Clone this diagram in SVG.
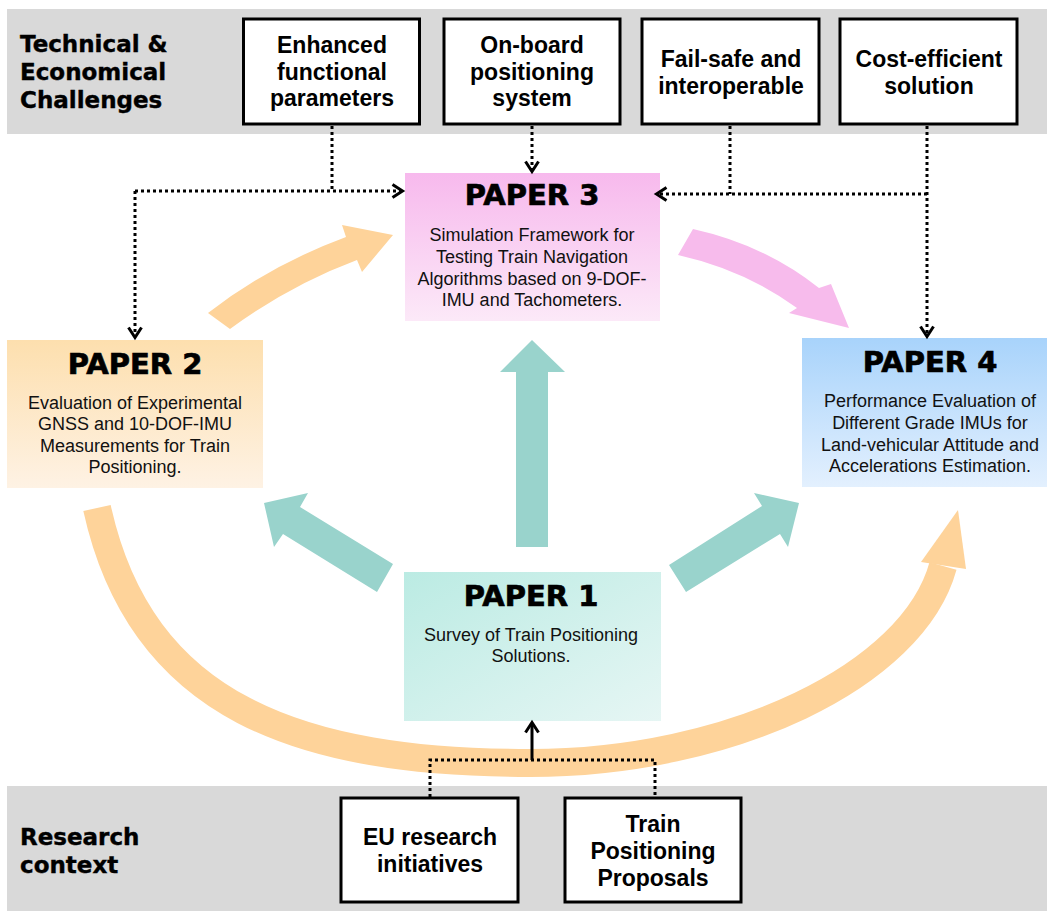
<svg xmlns="http://www.w3.org/2000/svg" width="1047" height="911" viewBox="0 0 1047 911">
<style>
.band{fill:#d9d9d9}
.box{fill:#fff;stroke:#000;stroke-width:3}
.lbl{font-family:"Liberation Sans",Arial,sans-serif;font-weight:bold;font-size:23px;text-anchor:middle;fill:#000}
.hd{font-family:"DejaVu Sans",sans-serif;font-weight:bold;font-size:23px;fill:#000;stroke:#000;stroke-width:0.4}
.ttl{font-family:"DejaVu Sans",sans-serif;font-weight:bold;font-size:29px;text-anchor:middle;fill:#000;stroke:#000;stroke-width:0.7}
.body{font-family:"Liberation Sans",Arial,sans-serif;font-size:18px;text-anchor:middle;fill:#111}
.dot{fill:none;stroke:#000;stroke-width:3;stroke-dasharray:3 3}
.solid{fill:none;stroke:#000;stroke-width:3}
.teal{fill:#99d3cc}
.orange{fill:#fed39a}
.pink{fill:#f7bbec}
</style>
<defs>
<linearGradient id="gP3" x1="0" y1="0" x2="0" y2="1"><stop offset="0" stop-color="#f7b9ed"/><stop offset="1" stop-color="#fce9f8"/></linearGradient>
<linearGradient id="gP2" x1="0" y1="0" x2="0" y2="1"><stop offset="0" stop-color="#fddfae"/><stop offset="1" stop-color="#fef2e4"/></linearGradient>
<linearGradient id="gP4" x1="0" y1="0" x2="0" y2="1"><stop offset="0" stop-color="#a8d3fb"/><stop offset="1" stop-color="#e3f0fe"/></linearGradient>
<linearGradient id="gP1" x1="0" y1="0" x2="1" y2="1"><stop offset="0" stop-color="#bbebe3"/><stop offset="1" stop-color="#e6f6f4"/></linearGradient>
<marker id="ch" viewBox="-14 -10 20 20" markerWidth="20" markerHeight="20" refX="-1.5" refY="0" orient="auto" markerUnits="userSpaceOnUse">
<path d="M-10,-6.5 L0,0 L-10,6.5" fill="none" stroke="#000" stroke-width="3"/>
</marker>
</defs>

<rect class="band" x="7" y="9" width="1040" height="125"/>
<rect class="band" x="7" y="786" width="1040" height="125"/>

<g id="arrows">
<path d="M97,508 C141,708 300,763 530,763 C730,763 913,676 943,566" fill="none" stroke="#fed39a" stroke-width="28"/>
<polygon class="orange" points="921,562 958,510 966,569"/>
<path class="orange" d="M208,313 Q270,265 346,237 L342,225 L393,235 L362,272 L357,260 Q290,285 230,329 Z"/>
<path class="pink" d="M693,229 Q765,245 819,288 L831,284 L849,328 L789,313 L797,308 Q745,270 678,255 Z"/>
<polygon class="teal" points="516,547 548,547 548,372 565,372 532,340 500,372 516,372"/>
<polygon class="teal" points="393,564 377,592 283,534 274,547 264,503 308,493 300,507"/>
<polygon class="teal" points="669,565 686,592 780,534 788,547 799,503 754,493 762,506"/>
</g>

<g id="challenges-label">
<text class="hd" x="20" y="52">Technical &amp;</text>
<text class="hd" x="20" y="80">Economical</text>
<text class="hd" x="20" y="108">Challenges</text>
</g>
<g id="c1">
<rect class="box" x="243.5" y="19" width="176" height="105"/>
<text class="lbl" x="332" y="53">Enhanced</text>
<text class="lbl" x="332" y="80">functional</text>
<text class="lbl" x="332" y="106">parameters</text>
</g>
<g id="c2">
<rect class="box" x="444" y="19" width="176" height="105"/>
<text class="lbl" x="532" y="53">On-board</text>
<text class="lbl" x="532" y="80">positioning</text>
<text class="lbl" x="532" y="106">system</text>
</g>
<g id="c3">
<rect class="box" x="642" y="19" width="177" height="105"/>
<text class="lbl" x="731" y="67">Fail-safe and</text>
<text class="lbl" x="731" y="94">interoperable</text>
</g>
<g id="c4">
<rect class="box" x="840" y="19" width="177" height="105"/>
<text class="lbl" x="929" y="67">Cost-efficient</text>
<text class="lbl" x="929" y="94">solution</text>
</g>

<g id="paper3">
<rect x="405" y="173" width="255" height="148" fill="url(#gP3)"/>
<text class="ttl" x="532" y="205">PAPER 3</text>
<text class="body" x="532" y="241">Simulation Framework for</text>
<text class="body" x="532" y="263">Testing Train Navigation</text>
<text class="body" x="532" y="285">Algorithms based on 9-DOF-</text>
<text class="body" x="532" y="306">IMU and Tachometers.</text>
</g>
<g id="paper2">
<rect x="7" y="340" width="256" height="148" fill="url(#gP2)"/>
<text class="ttl" x="135" y="374">PAPER 2</text>
<text class="body" x="135" y="409">Evaluation of Experimental</text>
<text class="body" x="135" y="430">GNSS and 10-DOF-IMU</text>
<text class="body" x="135" y="452">Measurements for Train</text>
<text class="body" x="135" y="473">Positioning.</text>
</g>
<g id="paper4">
<rect x="802" y="338" width="245" height="149" fill="url(#gP4)"/>
<text class="ttl" x="930" y="372">PAPER 4</text>
<text class="body" x="930" y="407">Performance Evaluation of</text>
<text class="body" x="930" y="429">Different Grade IMUs for</text>
<text class="body" x="930" y="451">Land-vehicular Attitude and</text>
<text class="body" x="930" y="472">Accelerations Estimation.</text>
</g>
<g id="paper1">
<rect x="404" y="572" width="257" height="149" fill="url(#gP1)"/>
<text class="ttl" x="531" y="606">PAPER 1</text>
<text class="body" x="531" y="641">Survey of Train Positioning</text>
<text class="body" x="531" y="662">Solutions.</text>
</g>

<g id="context-label">
<text class="hd" x="20" y="845">Research</text>
<text class="hd" x="20" y="873">context</text>
</g>
<g id="r1">
<rect class="box" x="341" y="798" width="177" height="104"/>
<text class="lbl" x="430" y="845">EU research</text>
<text class="lbl" x="430" y="872">initiatives</text>
</g>
<g id="r2">
<rect class="box" x="565" y="798" width="176" height="104"/>
<text class="lbl" x="653" y="832">Train</text>
<text class="lbl" x="653" y="859">Positioning</text>
<text class="lbl" x="653" y="886">Proposals</text>
</g>

<g id="connectors">
<path class="dot" d="M332,126 V191"/>
<path class="dot" d="M135,191 H401" marker-end="url(#ch)"/>
<path class="dot" d="M135,191 V336" marker-end="url(#ch)"/>
<path class="dot" d="M532,126 V170" marker-end="url(#ch)"/>
<path class="dot" d="M730,126 V194"/>
<path class="dot" d="M927,126 V335" marker-end="url(#ch)"/>
<path class="dot" d="M927,194 H658" marker-end="url(#ch)"/>
<path class="dot" d="M430,797 V760 H655 V797"/>
<path class="solid" d="M532,760 V724" marker-end="url(#ch)"/>
</g>
</svg>
